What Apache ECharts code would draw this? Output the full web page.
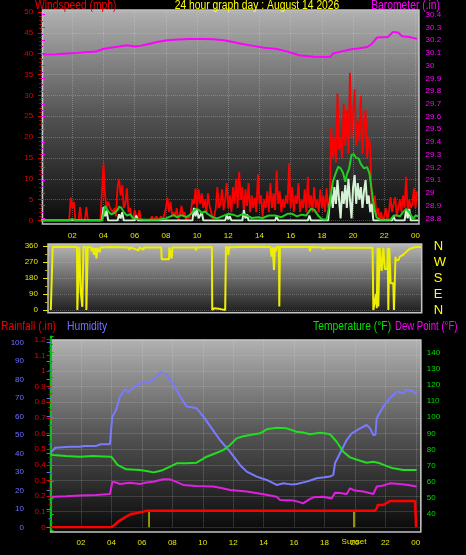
<!DOCTYPE html>
<html><head><meta charset="utf-8">
<script src="https://cdn.jsdelivr.net/npm/echarts@6/dist/echarts.min.js"></script>
<style>html,body{margin:0;padding:0;background:#000;}#c{width:466px;height:555px;}</style>
</head><body><div id="c"></div>
<script>
// ---------------- DATA ----------------
// wind speed (mph), one sample every 0.1 hour starting at 00:00
const WIND_STEP = 0.1;
const windSpeed = [
 0,0,0,0,0,0,0,0,0,0,            // 0.0
 0,0,0,0,0,0,0,0,0,5.5,          // 1.0
 3,4.5,0,0,0,3.2,0,0,0,3.2,      // 2.0
 0,0,0,0,0,0,0,0,0,0,            // 3.0
 13.7,6,3,4.5,3.2,3.5,2,3,1,8,   // 4.0
 10,6,8.5,3,4,7.7,2,3,1,0,       // 5.0
 2.5,1,0,2.5,0,0,0,0,0,0,        // 6.0
 0,1,0,0,1,0,0,1,0,0,            // 7.0
 3,5.5,2,4.5,1,2,1,3,0,1.5,      // 8.0
 3.5,1,2,0,1,0.5,2,5,4,7.7,      // 9.0
 3,7.5,4,6.5,3,5,2,6.5,3.5,2,    // 10.0
 0.5,1,3,8,3,4,7.5,2.5,5,9,      // 11.0
 3,6,2,8,4,10,3,11.7,5,8,        // 12.0
 2,7.5,3.5,9,2,6,3,5.5,2,11,     // 13.0
 4,6,1,5,3,7,2,9,3,6.5,          // 14.0
 2.5,12,4,7,2,5,3,6,4,13.7,      // 15.0
 3,8,2,6,4,9,2,5,3,7.5,          // 16.0
 2,10.5,3,6,2,8,3,5,2,7.5,       // 17.0
 3,6,2,7.7,3,5,22.5,15,20,14,    // 18.0
 30.5,17,20,15,28,18,26.5,16,35.4,20, // 19.0
 25.8,31.4,18,24,19,29.8,16,22.5,26.5,15, // 20.0
 20,17.7,4,2,6,1,3,0,2,0,        // 21.0
 1,3,0,2,5.6,2,4,5.6,1,3,        // 22.0
 5,2,6,3,10.5,2,5,3,4,7.7,       // 23.0
 3,7                             // 24.0
];
const windPale = [[0,0],[3.9,0],[4.0,3.2],[4.1,1],[4.2,2.4],[4.3,0],[4.9,0],[5.0,1.5],[5.1,0.5],[5.2,2],[5.3,0],[6.0,0],[6.1,1.2],[6.2,0],
 [9.7,0],[9.8,3],[9.9,1],[10.0,2.5],[10.1,0.5],[10.3,2],[10.4,0],[11.8,0],[11.9,1.2],[12.0,0.3],[12.1,1],[12.2,0],
 [12.9,0],[13.0,2.5],[13.1,0.5],[13.2,1.5],[13.3,0],[15.0,0],[15.1,1],[15.2,0],[17.1,0],[17.2,1.2],[17.3,0],
 [18.4,0],[18.5,4],[18.6,6.5],[18.7,3],[18.8,8],[18.9,4],[19.0,9.7],[19.1,5],[19.2,0.5],[19.3,7],[19.4,4],[19.5,8.5],
 [19.6,3],[19.7,10],[19.8,5],[19.9,0.5],[20.0,8],[20.1,10.9],[20.2,4],[20.3,9],[20.4,5],[20.5,8],[20.6,3],[20.7,7],
 [20.8,9.7],[20.9,4],[21.0,6],[21.1,2],[21.2,4],[21.3,0],[22.5,0],[22.6,1],[22.7,0],[23.3,0],[23.4,2.5],[23.5,0.5],[23.6,2.8],[23.7,0],[24.2,0]];
const windAverage = [[0,0],[1.8,0],[2.0,0.4],[2.2,0],[3.9,0],[4.0,1.5],[4.1,3.5],[4.2,3.3],[4.35,2],[4.5,1.5],[4.7,1.8],[4.9,2.5],
 [5.0,3.3],[5.15,3],[5.3,2],[5.5,1.2],[5.7,1.5],[5.9,0.6],[6.2,0.3],[6.6,0.2],[7.5,0.2],[8.0,0.5],[8.3,1],[8.5,1.3],[8.7,0.8],
 [9.0,1.3],[9.3,0.8],[9.6,1.5],[9.9,2.8],[10.1,2.6],[10.3,1.8],[10.5,2.2],[10.7,1.5],[11.0,0.8],[11.3,0.5],[11.6,1],[12.0,1.6],
 [12.3,1.4],[12.6,1],[12.9,1.5],[13.2,1.2],[13.5,0.6],[13.9,0.8],[14.2,0.6],[14.6,1.2],[15.0,1.2],[15.4,0.8],[15.8,1.6],[16.1,1.6],
 [16.4,1.0],[16.7,1.4],[17.0,1.2],[17.3,2.8],[17.5,2.6],[17.8,1],[18.0,0.3],[18.3,0.2],[18.5,4],[18.7,9.3],[18.9,11.5],[19.05,12.9],
 [19.2,12.5],[19.35,11.5],[19.5,9.3],[19.6,11],[19.75,12.5],[19.9,15.7],[20.05,15.9],[20.2,15],[20.35,14.9],[20.5,13.5],[20.7,12.5],
 [20.9,12.8],[21.05,11.3],[21.2,7],[21.35,3],[21.5,0.8],[21.7,0.2],[22.4,0.2],[22.6,1.2],[22.8,1.2],[23.0,1],[23.2,2],[23.4,2.8],
 [23.6,2],[23.85,0.4],[24.0,1.2],[24.2,1]];
const barometer = [[0.1,30.087],[1.0,30.09],[1.64,30.095],[2.3,30.1],[3.0,30.107],[3.5,30.11],[3.97,30.13],[4.42,30.14],[5.0,30.15],
 [5.5,30.16],[6.0,30.15],[6.34,30.155],[6.9,30.17],[7.43,30.185],[8.07,30.2],[8.8,30.205],[9.54,30.21],[10.3,30.21],[11.02,30.207],
 [11.7,30.2],[12.3,30.185],[12.9,30.17],[13.58,30.155],[14.3,30.14],[15.12,30.13],[15.8,30.11],[16.6,30.08],[17.5,30.07],[18.52,30.067],
 [18.7,30.095],[19.2,30.11],[19.8,30.126],[20.3,30.135],[20.9,30.146],[21.2,30.17],[21.53,30.22],[22.24,30.225],[22.56,30.265],
 [22.88,30.26],[23.14,30.23],[23.6,30.225],[24.1,30.21]];
const windDirection = [[0.62,0],[0.7,0],[0.74,355],[1.5,356],[2.3,355],[2.32,0],[2.4,0],[2.45,355],[2.5,355],[2.54,100],[2.6,100],
 [2.64,18],[2.68,18],[2.71,355],[2.88,355],[2.9,0],[2.96,0],[2.99,355],[3.2,352],[3.24,330],[3.3,352],[3.4,310],[3.45,350],[3.55,290],
 [3.6,350],[3.75,325],[3.8,352],[4.5,354],[5.6,352],[5.65,340],[5.75,352],[6.24,335],[6.3,352],[6.55,340],[6.6,352],[7.7,352],
 [7.73,285],[8.2,285],[8.22,352],[8.33,352],[8.37,290],[8.42,352],[9.9,352],[9.93,335],[9.97,352],[10.95,354],[10.97,0],[11.1,10],
 [11.2,5],[11.5,5],[11.8,0],[11.85,355],[11.98,352],[12.0,310],[12.05,352],[12.5,355],[13.5,356],[14.7,355],[14.78,300],[14.85,352],
 [14.93,225],[14.98,352],[15.06,330],[15.1,354],[15.25,354],[15.27,20],[15.31,355],[17.2,354],[17.24,330],[17.28,354],[18.05,352],
 [18.09,340],[18.13,352],[20.85,350],[20.9,340],[20.95,352],[21.25,350],[21.3,0],[21.4,0],[21.47,90],[21.52,10],[21.57,350],
 [21.62,20],[21.66,30],[21.7,350],[21.78,350],[21.83,220],[21.9,220],[21.94,350],[22.0,350],[22.04,230],[22.19,230],[22.22,350],
 [22.26,0],[22.3,0],[22.32,350],[22.38,350],[22.41,150],[22.58,150],[22.62,0],[22.66,0],[22.72,300],[22.75,280],[22.9,281],
 [23.0,300],[23.1,300],[23.2,310],[23.33,320],[23.5,335],[23.65,345],[24.0,354],[24.35,355]];
const rainfall = [[0,0],[4.0,0],[4.2,0.015],[4.44,0.036],[4.7,0.052],[4.97,0.068],[5.28,0.085],[5.6,0.09],[5.87,0.096],[6.1,0.1],
 [6.31,0.106],[21.32,0.106],[21.45,0.125],[21.5,0.143],[21.87,0.143],[22.0,0.155],[22.3,0.168],[23.95,0.168],[24.02,0]];
const humidity = [[0.0,40.5],[0.18,41.8],[0.3,43],[0.8,43.3],[1.3,43.5],[1.93,43.5],[2.2,44],[3.0,44],[3.3,44.9],[3.9,44.9],[4.0,45.3],
 [4.05,59.8],[4.3,63.4],[4.56,70.6],[4.75,73],[4.9,74.6],[5.1,73],[5.44,75.5],[5.87,77.8],[6.2,78],[6.53,78.7],[6.97,81.4],[7.2,83.8],
 [7.4,83.2],[7.63,82.9],[7.85,79.7],[8.29,74.3],[8.5,71],[8.72,68],[8.94,65.3],[9.2,65],[9.6,64.4],[10.04,59.8],[10.59,53.5],
 [11.13,47.2],[11.79,40.9],[12.45,33.7],[12.89,30.1],[13.55,27.4],[14.2,25.6],[14.6,24],[14.86,22.9],[15.3,23.8],[15.8,23.2],
 [16.17,23.4],[16.83,24.7],[17.49,26.5],[18.0,27],[18.36,27.4],[18.58,28.3],[18.69,34.6],[19.02,40],[19.46,47.2],[19.79,50.8],
 [20.34,53.5],[20.77,55.3],[21.0,53.5],[21.21,49.9],[21.35,50],[21.43,58.9],[21.87,65.3],[22.3,69.8],[22.75,73.4],[23.18,72.5],
 [23.4,74.3],[23.84,73.4],[24.06,71.6]];
const temperature = [[0.0,77],[0.18,76.6],[1.0,76],[1.93,75.5],[2.8,75.9],[3.5,75.7],[4.0,75.5],[4.4,70.4],[4.97,67.7],[5.87,67.3],
 [6.4,66.5],[6.75,65.8],[7.1,66.5],[7.4,67.3],[7.85,69.4],[8.29,71.4],[8.94,71.4],[9.6,71.8],[10.26,75.5],[10.8,77.5],[11.35,79.6],
 [11.79,82.8],[12.23,86.9],[12.6,88],[13.1,89],[13.77,90],[14.2,92.5],[14.86,93.5],[15.52,93.1],[16.17,91],[16.6,90.5],[17.05,89.5],
 [17.7,90.4],[18.0,90],[18.36,89.5],[18.8,84.8],[19.24,78.6],[19.68,75.1],[20.34,73],[20.77,71.8],[21.21,72.4],[21.65,71.4],
 [22.09,69.7],[22.52,68.3],[23.18,67.3],[24.06,67.3]];
const dewPoint = [[0.0,50.5],[0.18,50.7],[1.0,51],[1.93,51.4],[3.0,51.8],[3.9,52.4],[4.0,52.6],[4.06,60],[4.3,59.5],[4.56,58.6],
 [5.2,59.4],[5.87,58.6],[6.3,59.5],[6.75,60],[7.4,61.5],[7.8,61.5],[8.07,60.7],[8.72,58],[9.6,57.4],[10.7,57],[11.3,56],[11.79,54.9],
 [12.89,53.9],[13.99,52.2],[14.86,50.7],[15.08,48.7],[15.96,48.3],[16.3,47.5],[16.6,46.6],[17.0,49],[17.27,50.3],[17.92,50.7],
 [18.47,49.6],[18.69,53.2],[19.0,53],[19.46,52.4],[19.68,55.9],[20.0,54.5],[20.56,53.9],[21.21,52.4],[21.43,57],[21.8,57.5],
 [22.3,59],[22.96,58.6],[23.5,58],[24.06,57]];
const sunriseHour = 6.47;
const sunsetHour = 19.94;
const sunMarkerTop = 0.106;
const sunsetLabel = 'Sunset';
const directionLetters = {0:'N', 90:'E', 180:'S', 270:'W', 360:'N'};
const titles = {
  wind: 'Windspeed (mph)', main: '24 hour graph day : August 14 2026', baro: 'Barometer (.in)',
  rain: 'Rainfall (.in)', hum: 'Humidity', temp: 'Temperature (°F)', dew: 'Dew Point (°F)'
};

// ---------------- CHART ----------------
const FONT = '"Liberation Sans",Arial,sans-serif';
function hourLabel(v){
  if (v <= 0) return '';
  if (Math.abs(v/2 - Math.round(v/2)) > 1e-6) return '';
  const h = Math.round(v) % 24;
  return (h < 10 ? '0' : '') + h;
}
function grad(top, mid, bot){
  return new echarts.graphic.LinearGradient(0,0,0,1,[{offset:0,color:top},{offset:0.5,color:mid},{offset:1,color:bot}]);
}
const SPLIT = {show:true, lineStyle:{color:'rgba(215,215,215,0.32)', type:'dotted', width:1}};
const G = (o) => Object.assign({outerBoundsMode:'none', containLabel:false}, o);

const chart = echarts.init(document.getElementById('c'), null, {renderer:'canvas'});
const txt = (x, y, text, color, align, sx) => ({type:'text', x, y, z:5, silent:true, scaleX: sx || 0.86,
  style:{x:0, y:0, text, fill:color, font:'12px ' + FONT, textAlign: align || 'left', textVerticalAlign:'middle'}});

const option = {
  backgroundColor:'#000',
  animation:false,
  textStyle:{fontFamily:FONT},
  graphic:{elements:[
    {type:'rect', z:-10, silent:true, shape:{x:42.5,y:10,width:376.5,height:214},
      style:{fill:grad('#b2b2b2','#525252','#0a0a0a'), stroke:'#c4c4c4', lineWidth:1.5}},
    {type:'rect', z:-10, silent:true, shape:{x:48,y:244,width:373.7,height:68.7},
      style:{fill:grad('#b8b8b8','#6a6a6a','#1c1c1c'), stroke:'#c4c4c4', lineWidth:1.5}},
    {type:'rect', z:-10, silent:true, shape:{x:50.6,y:340,width:370.2,height:192},
      style:{fill:grad('#b2b2b2','#525252','#080808'), stroke:'#c4c4c4', lineWidth:1.5}},
    txt(35, 6, titles.wind, '#ee0000'),
    txt(257, 6, titles.main, '#ffff00', 'center'),
    txt(440, 6, titles.baro, '#ff00ff', 'right'),
    txt(1, 327, titles.rain, '#ee0000'),
    txt(67, 327, titles.hum, '#7070ff'),
    txt(313, 327, titles.temp, '#00e000'),
    txt(395, 327, titles.dew, '#ff00ff', 'left', 0.8)
  ]},
  grid:[
    G({left:41.1, top:12, width:377.5, height:208.5}),     // 0 wind
    G({left:41.1, top:14.7, width:377.5, height:203.6}),   // 1 barometer
    G({left:48, top:246, width:373.7, height:64}),         // 2 direction
    G({left:50.6, top:339.7, width:370.2, height:187.6}),  // 3 rain
    G({left:50.6, top:342.3, width:370.2, height:185}),    // 4 humidity
    G({left:50.6, top:336.6, width:370.2, height:193.5})   // 5 temperature
  ],
  xAxis:[
    {gridIndex:0, type:'value', min:0, max:24.2, interval:2,
      axisLine:{show:false}, axisTick:{show:false},
      axisLabel:{color:'#e6e600', fontSize:8, margin:11, formatter:hourLabel, hideOverlap:false},
      splitLine:SPLIT},
    {gridIndex:1, type:'value', min:0, max:24.2, show:false},
    {gridIndex:2, type:'value', min:0.44, max:24.4, show:false},
    {gridIndex:3, type:'value', min:0, max:24.33, interval:2,
      axisLine:{show:false}, axisTick:{show:false},
      axisLabel:{color:'#e6e600', fontSize:8, margin:11, formatter:hourLabel, hideOverlap:false},
      splitLine:SPLIT},
    {gridIndex:4, type:'value', min:0, max:24.33, show:false},
    {gridIndex:5, type:'value', min:0, max:24.33, show:false}
  ],
  yAxis:[
    {gridIndex:0, type:'value', position:'left', min:0, max:50, interval:5,
      axisLine:{show:false}, axisTick:{show:true, length:3, lineStyle:{color:'#e00000'}},
      minorTick:{show:true, splitNumber:5, length:2, lineStyle:{color:'#b00000'}},
      axisLabel:{color:'#e00000', fontSize:8, margin:8}, splitLine:SPLIT},
    {gridIndex:1, type:'value', position:'right', min:28.8, max:30.4, interval:0.1,
      axisLine:{show:false}, axisTick:{show:true, length:4, lineStyle:{color:'#ff00ff'}},
      minorTick:{show:true, splitNumber:2, length:2, lineStyle:{color:'#cc00cc'}},
      axisLabel:{color:'#ff00ff', fontSize:8, margin:7, formatter:v => String(+v.toFixed(1))}, splitLine:{show:false}},
    {gridIndex:2, type:'value', position:'left', min:0, max:360, interval:90,
      axisLine:{show:false}, axisTick:{show:true, length:5, lineStyle:{color:'#e6e600'}},
      minorTick:{show:true, splitNumber:2, length:3, lineStyle:{color:'#b0b000'}},
      axisLabel:{color:'#e6e600', fontSize:8, margin:10},
      splitLine:{show:true, lineStyle:{color:'rgba(215,215,215,0.25)', type:'dotted'}}},
    {gridIndex:2, type:'value', position:'right', min:0, max:360, interval:90,
      axisLine:{show:false}, axisTick:{show:false}, splitLine:{show:false},
      axisLabel:{color:'#ffff00', fontSize:13, margin:12, formatter:v => directionLetters[Math.round(v)] || ''}},
    {gridIndex:3, type:'value', position:'left', min:0, max:1.2, interval:0.1,
      axisLine:{show:true, lineStyle:{color:'#ee0000', type:'dotted', width:2}},
      axisTick:{show:true, length:4, lineStyle:{color:'#ee0000'}},
      minorTick:{show:true, splitNumber:2, length:2, lineStyle:{color:'#bb0000'}},
      axisLabel:{color:'#ee0000', fontSize:8, margin:5, formatter:v => String(+v.toFixed(1))}, splitLine:SPLIT},
    {gridIndex:4, type:'value', position:'left', offset:20.6, min:0, max:100, interval:10,
      axisLine:{show:true, lineStyle:{color:'#6a6aff', width:2}},
      axisTick:{show:true, length:4, lineStyle:{color:'#6a6aff'}},
      minorTick:{show:true, splitNumber:2, length:2, lineStyle:{color:'#5050d0'}},
      axisLabel:{color:'#7070ff', fontSize:8, margin:6}, splitLine:{show:false}},
    {gridIndex:5, type:'value', position:'right', min:30, max:150, interval:10,
      axisLine:{show:true, lineStyle:{color:'#00cc00', type:'dotted', width:2}},
      axisTick:{show:true, length:3, lineStyle:{color:'#00cc00'}},
      minorTick:{show:true, splitNumber:2, length:2, lineStyle:{color:'#009900'}},
      axisLabel:{color:'#00dd00', fontSize:8, margin:6, formatter:v => (v <= 30 || v >= 150) ? '' : String(v)},
      splitLine:{show:false}}
  ],
  series:[
    {name:'Wind speed', type:'line', xAxisIndex:0, yAxisIndex:0, symbol:'none', z:3,
      data: windSpeed.map((v,i) => [+(i*WIND_STEP).toFixed(2), v]), lineStyle:{color:'#ff0000', width:1.8}},
    {name:'Wind low', type:'line', xAxisIndex:0, yAxisIndex:0, symbol:'none', z:4,
      data: windPale, lineStyle:{color:'#d4f2d4', width:2}},
    {name:'Wind average', type:'line', xAxisIndex:0, yAxisIndex:0, symbol:'none', z:5,
      data: windAverage, lineStyle:{color:'#22cc22', width:2}},
    {name:'Barometer', type:'line', xAxisIndex:1, yAxisIndex:1, symbol:'none', z:5,
      data: barometer, lineStyle:{color:'#ff00ff', width:2}},
    {name:'Wind direction', type:'line', xAxisIndex:2, yAxisIndex:2, symbol:'none', z:5,
      data: windDirection, lineStyle:{color:'#eeee00', width:2}},
    {name:'Sunrise', type:'line', xAxisIndex:3, yAxisIndex:4, symbol:'none', z:4,
      data: [[sunriseHour, sunMarkerTop],[sunriseHour, 0]], lineStyle:{color:'#c0c000', width:1.5}},
    {name:'Sunset', type:'line', xAxisIndex:3, yAxisIndex:4, symbol:'none', z:4,
      data: [[sunsetHour, sunMarkerTop],[sunsetHour, 0]], lineStyle:{color:'#c0c000', width:1.5},
      markPoint:{symbol:'rect', symbolSize:1, itemStyle:{color:'rgba(0,0,0,0)'}, silent:true,
        label:{show:true, position:'bottom', distance:10, formatter:sunsetLabel, color:'#e6e600', fontSize:8},
        data:[{coord:[sunsetHour, 0]}]}},
    {name:'Humidity', type:'line', xAxisIndex:4, yAxisIndex:5, symbol:'none', z:5,
      data: humidity, lineStyle:{color:'#7a7aff', width:2}},
    {name:'Temperature', type:'line', xAxisIndex:5, yAxisIndex:6, symbol:'none', z:5,
      data: temperature, lineStyle:{color:'#22dd22', width:2}},
    {name:'Dew point', type:'line', xAxisIndex:5, yAxisIndex:6, symbol:'none', z:5,
      data: dewPoint, lineStyle:{color:'#e020e0', width:2}},
    {name:'Rainfall', type:'line', xAxisIndex:3, yAxisIndex:4, symbol:'none', z:6,
      data: rainfall, lineStyle:{color:'#ff0000', width:2.5}}
  ]
};
chart.setOption(option);
</script></body></html>
